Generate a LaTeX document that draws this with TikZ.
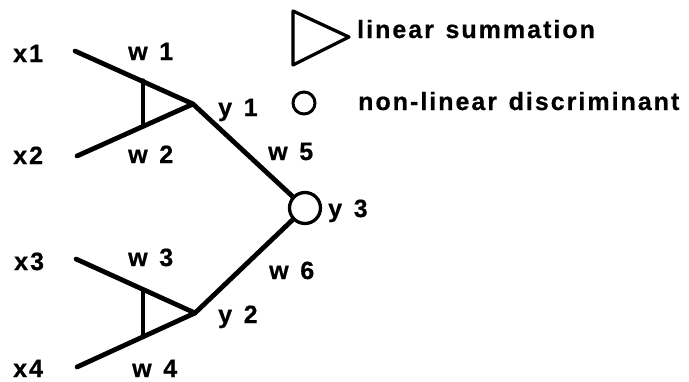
\documentclass[tikz,border=0pt]{standalone}
\usepackage{fontspec}
\newfontfamily\lblfont{Liberation Sans}[LetterSpace=8,WordSpace=1.3,FakeBold=0.6]
\begin{document}
\begin{tikzpicture}[x=1pt,y=-1pt,
  lbl/.style={anchor=base west,inner sep=0pt,font=\lblfont\bfseries\fontsize{25}{29}\selectfont},
  wire/.style={line width=4.8pt,line cap=round,line join=round},
  side/.style={line width=3.3pt,line cap=round},
  disc/.style={circle,draw,line width=3.3pt,minimum size=31pt,inner sep=0pt}]
\useasboundingbox (0,0) rectangle (689,381);
% top summation
\coordinate (x1s) at (75,51);
\coordinate (x2s) at (77,156);
\coordinate (a1) at (143,80);
\coordinate (b1) at (143,127);
\coordinate (t1) at (193,104);
\draw[wire] (x1s) -- (t1) -- (x2s);
\draw[side] (a1) -- (b1);
% bottom summation
\coordinate (x3s) at (76,259);
\coordinate (x4s) at (77,367);
\coordinate (a2) at (143,290);
\coordinate (b2) at (143,337);
\coordinate (t2) at (195,313);
\draw[wire] (x3s) -- (t2) -- (x4s);
\draw[side] (a2) -- (b2);
% discriminant
\node[disc] (c3) at (305,208) {};
\draw[wire] (t1) -- (c3);
\draw[wire] (t2) -- (c3);
% labels
\node[lbl] (lx1) at (13,62) {x1};
\node[lbl] (lw1) at (128,60) {w 1};
\node[lbl] (ly1) at (218,116) {y 1};
\node[lbl] (lx2) at (13,164) {x2};
\node[lbl] (lw2) at (128,163) {w 2};
\node[lbl] (lw5) at (268,160) {w 5};
\node[lbl] (ly3) at (328,217) {y 3};
\node[lbl] (lw6) at (269,279) {w 6};
\node[lbl] (lx3) at (14,270) {x3};
\node[lbl] (lw3) at (128,266) {w 3};
\node[lbl] (ly2) at (218,323) {y 2};
\node[lbl] (lx4) at (13,377) {x4};
\node[lbl] (lw4) at (132,377) {w 4};
% legend
\coordinate (la) at (293,11);
\coordinate (lb) at (293,65);
\coordinate (lt) at (349,37);
\draw[side,line join=round] (la) -- (lt) -- (lb) -- cycle;
\node[circle,draw,line width=3pt,minimum size=22pt,inner sep=0pt] (lc) at (304,103) {};
\node[lbl] (ls) at (357,38) {linear summation};
\node[lbl] (ld) at (358,110) {non-linear discriminant};
\end{tikzpicture}
\end{document}
